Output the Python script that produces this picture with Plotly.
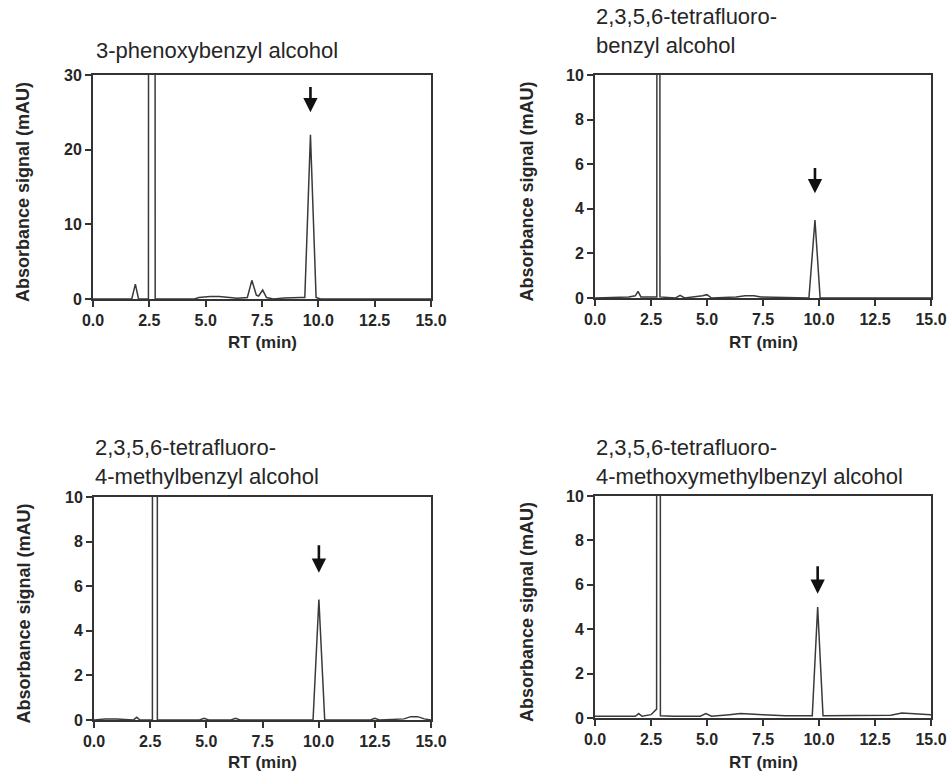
import plotly.graph_objects as go

W, H = 949, 773

# ---- chromatogram data: retention time (min) and absorbance (mAU) ----
titles = [
    "3-phenoxybenzyl alcohol",
    "2,3,5,6-tetrafluoro-<br>benzyl alcohol",
    "2,3,5,6-tetrafluoro-<br>4-methylbenzyl alcohol",
    "2,3,5,6-tetrafluoro-<br>4-methoxymethylbenzyl alcohol",
]

rt_a = [0.0, 1.0, 1.72, 1.88, 2.02, 2.46, 2.5, 2.72, 2.76, 3.5, 4.5, 4.7, 5.2, 5.6, 6.0, 6.4,
        6.85, 7.05, 7.25, 7.35, 7.53, 7.7, 8.0, 8.5, 9.2, 9.4, 9.65, 9.9, 10.1, 11.0, 13.0, 15.0]
sig_a = [0.0, 0.0, 0.0, 2.0, 0.0, 0.0, 300.0, 300.0, 0.0, 0.0, 0.0, 0.2, 0.35, 0.35, 0.25, 0.1,
         0.2, 2.5, 0.5, 0.4, 1.2, 0.2, 0.0, 0.15, 0.2, 0.2, 22.0, 0.2, 0.0, 0.0, 0.0, 0.0]

rt_b = [0.0, 1.5, 1.8, 1.92, 2.05, 2.76, 2.83, 2.9, 3.6, 3.8, 4.0, 4.5, 4.8, 5.0, 5.2, 6.3, 6.7,
        7.1, 7.4, 9.55, 9.82, 10.05, 12.0, 15.0]
sig_b = [0.0, 0.05, 0.1, 0.3, 0.05, 0.05, 300.0, 0.05, 0.0, 0.12, 0.0, 0.05, 0.1, 0.15, 0.0, 0.05,
         0.1, 0.1, 0.05, 0.0, 3.5, 0.0, 0.0, 0.0]

rt_c = [0.0, 0.5, 1.0, 1.75, 1.9, 2.05, 2.6, 2.64, 2.78, 2.82, 4.7, 4.9, 5.1, 6.1, 6.3, 6.5, 9.75,
        10.01, 10.27, 12.3, 12.5, 12.7, 13.8, 14.1, 14.4, 14.7, 15.0]
sig_c = [0.0, 0.05, 0.05, 0.0, 0.12, 0.0, 0.0, 300.0, 300.0, 0.0, 0.0, 0.08, 0.0, 0.0, 0.08, 0.0,
         0.0, 5.4, 0.0, 0.0, 0.08, 0.0, 0.05, 0.15, 0.15, 0.05, 0.0]

rt_d = [0.0, 1.0, 1.8, 1.95, 2.1, 2.5, 2.75, 2.84, 2.92, 3.5, 4.7, 4.95, 5.2, 6.0, 6.5, 7.5, 8.5,
        9.7, 9.94, 10.18, 11.5, 13.2, 13.7, 14.2, 15.0]
sig_d = [0.08, 0.08, 0.08, 0.2, 0.08, 0.15, 0.4, 300.0, 0.1, 0.08, 0.08, 0.2, 0.08, 0.15, 0.2,
         0.15, 0.1, 0.1, 5.0, 0.1, 0.1, 0.12, 0.22, 0.18, 0.15]

rts = [rt_a, rt_b, rt_c, rt_d]
signals = [sig_a, sig_b, sig_c, sig_d]

# analyte peak marker: retention time, arrow tip and arrow tail (mAU)
arrow_rt = [9.65, 9.82, 10.01, 9.94]
arrow_tip = [25.0, 4.7, 6.6, 5.6]
arrow_tail = [28.6, 5.9, 7.9, 6.9]

y_ticks = [[0, 10, 20, 30], [0, 2, 4, 6, 8, 10], [0, 2, 4, 6, 8, 10], [0, 2, 4, 6, 8, 10]]
x_ticks = [0.0, 2.5, 5.0, 7.5, 10.0, 12.5, 15.0]

# ---- panel placement (pixels) ----
x_px = [(93, 431), (595, 931), (94, 431), (595, 931)]
y_px = [(75, 299), (75, 298), (497, 720), (496, 718)]
title_px = [(95, 64), (595, 59), (94, 490), (595, 490)]
xlabel_py = [342, 342, 762, 762]
ylabel_px = [23, 527, 23, 527]

FONT = "Liberation Sans, Arial, sans-serif"
INK = "#262626"
LINE = "#3a3a3a"


def px(xp):
    return xp / W


def py(yp):
    return 1 - yp / H


fig = go.Figure()
annotations = []

for i in range(4):
    n = "" if i == 0 else str(i + 1)
    xa, ya = "x" + n, "y" + n
    fig.add_trace(go.Scatter(
        x=rts[i], y=signals[i], mode="lines",
        line=dict(color=LINE, width=1.5),
        xaxis=xa, yaxis=ya, showlegend=False, hoverinfo="skip",
    ))

    axis_common = dict(
        showline=True, linecolor="#333333", linewidth=2, mirror=True,
        ticks="outside", ticklen=6, tickwidth=2, tickcolor="#333333",
        showgrid=False, zeroline=False, automargin=False,
        tickfont=dict(family=FONT, size=16, color=INK, weight="bold"),
    )
    fig.layout["xaxis" + n] = dict(
        axis_common, domain=[px(x_px[i][0]), px(x_px[i][1])], range=[0, 15],
        tickvals=x_ticks, ticktext=[f"<b>{v:.1f}</b>" for v in x_ticks], anchor=ya,
    )
    fig.layout["yaxis" + n] = dict(
        axis_common, domain=[py(y_px[i][1]), py(y_px[i][0])],
        range=[0, y_ticks[i][-1]],
        tickvals=y_ticks[i], ticktext=[f"<b>{v}</b>" for v in y_ticks[i]], anchor=xa,
    )

    # panel heading
    tx, ty = title_px[i]
    annotations.append(dict(
        text=titles[i], xref="paper", yref="paper", x=px(tx), y=py(ty),
        xanchor="left", yanchor="bottom", align="left", showarrow=False,
        borderpad=0, font=dict(family=FONT, size=22, color=INK),
    ))
    # axis titles
    annotations.append(dict(
        text="<b>RT (min)</b>", xref="paper", yref="paper",
        x=px((x_px[i][0] + x_px[i][1]) / 2), y=py(xlabel_py[i]),
        xanchor="center", yanchor="middle", showarrow=False,
        font=dict(family=FONT, size=17, color=INK),
    ))
    annotations.append(dict(
        text="<b>Absorbance signal (mAU)</b>", xref="paper", yref="paper",
        x=px(ylabel_px[i]), y=py((y_px[i][0] + y_px[i][1]) / 2 + 5),
        xanchor="center", yanchor="middle", textangle=-90, showarrow=False,
        font=dict(family=FONT, size=18, color=INK),
    ))
    # arrow pointing at the analyte peak
    annotations.append(dict(
        x=arrow_rt[i], y=arrow_tip[i], ax=arrow_rt[i], ay=arrow_tail[i],
        xref=xa, yref=ya, axref=xa, ayref=ya, text="", showarrow=True,
        arrowhead=2, arrowsize=1.1, arrowwidth=2.6, arrowcolor="#111111",
    ))

fig.update_layout(
    width=W, height=H, autosize=False,
    margin=dict(l=0, r=0, t=0, b=0, pad=0, autoexpand=False),
    paper_bgcolor="white", plot_bgcolor="white",
    annotations=annotations,
)

fig.write_html("out.html")
